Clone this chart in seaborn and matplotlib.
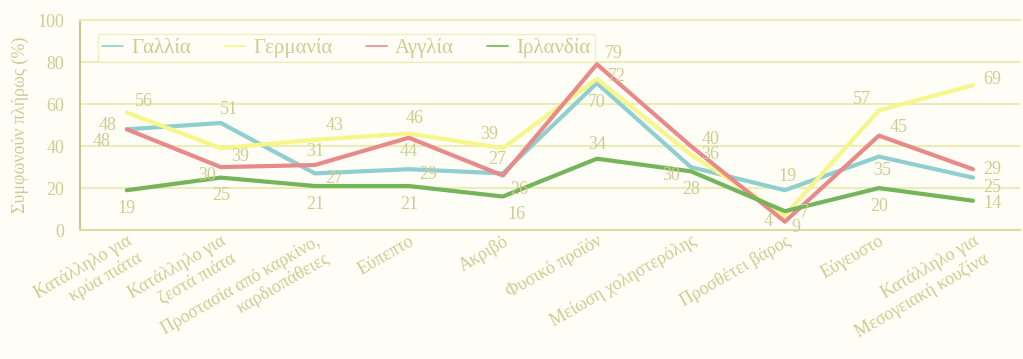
import matplotlib
matplotlib.use("Agg")
import matplotlib.pyplot as plt
import matplotlib.transforms as mtransforms
import seaborn as sns
import pandas as pd

# Survey attributes (x axis)
categories = [
    "Κατάλληλο για\nκρύα πιάτα",
    "Κατάλληλο για\nζεστά πιάτα",
    "Προστασία από καρκίνο,\nκαρδιοπάθειες",
    "Εύπεπτο",
    "Ακριβό",
    "Φυσικό προϊόν",
    "Μείωση χοληστερόλης",
    "Προσθέτει βάρος",
    "Εύγευστο",
    "Κατάλληλο για\nΜεσογειακή κουζίνα",
]

# Share of respondents per country (%)
gallia = [48, 51, 27, 29, 27, 70, 30, 19, 35, 25]
germania = [56, 39, 43, 46, 39, 72, 36, 7, 57, 69]
anglia = [48, 30, 31, 44, 26, 79, 40, 4, 45, 29]
irlandia = [19, 25, 21, 21, 16, 34, 28, 9, 20, 14]

countries = ["Γαλλία", "Γερμανία", "Αγγλία", "Ιρλανδία"]
series = [gallia, germania, anglia, irlandia]
yticks = [0, 20, 40, 60, 80, 100]

rows = []
for country, vals in zip(countries, series):
    for i, v in enumerate(vals):
        rows.append({"idx": i, "value": v, "country": country})
df = pd.DataFrame(rows)

sns.set_theme(style="white")
plt.rcParams["font.family"] = ["Liberation Serif", "DejaVu Serif"]

txt = "#cdcd92"
grid = "#ececb8"
palette = {
    "Γαλλία": "#8fcfcf",
    "Γερμανία": "#f6f68a",
    "Αγγλία": "#e98a8a",
    "Ιρλανδία": "#74b45a",
}

fig = plt.figure(figsize=(10.23, 3.59), dpi=100)
fig.patch.set_facecolor("#fefef6")
ax = fig.add_axes([0.078, 0.359, 0.919, 0.585])
ax.set_facecolor("#fefef6")

sns.lineplot(data=df, x="idx", y="value", hue="country", hue_order=countries,
             palette=palette, linewidth=3, ax=ax, legend=True)

# label offsets (points) for each value label
offsets = {
    "Γαλλία": [(-18, -9), (6, 10), (14, -4), (14, -4), (-4, 10),
               (0, -14), (-14, -6), (2, 10), (2, -10), (14, -7)],
    "Γερμανία": [(12, 8), (14, -6), (14, 10), (4, 11), (-10, 10),
                 (14, 2), (14, 0), (14, 2), (-12, 8), (14, 4)],
    "Αγγλία": [(-14, 3), (-10, -6), (0, 10), (0, -10), (12, -10),
               (12, 8), (14, 5), (-12, 0), (14, 6), (14, 0)],
    "Ιρλανδία": [(0, -13), (0, -13), (0, -13), (0, -13), (10, -13),
                 (0, 10), (0, -13), (8, -12), (0, -13), (14, -2)],
}
for country, vals in zip(countries, series):
    for i, v in enumerate(vals):
        dx, dy = offsets[country][i]
        ax.annotate(str(v), (i, v), xytext=(dx, dy), textcoords="offset points",
                    ha="center", va="center", fontsize=13, color=txt)

ax.set_xlim(-0.5, len(categories) - 0.5)
ax.set_ylim(0, 100)
ax.set_yticks(yticks)
ax.set_yticklabels([str(t) for t in yticks], fontsize=13, color=txt)
ax.set_xticks(range(len(categories)))
ax.set_xticklabels(categories, rotation=30, ha="right", rotation_mode="anchor",
                   multialignment="right", fontsize=13, color=txt)
# nudge the slanted category labels a little to the right of their ticks
shift = mtransforms.ScaledTranslation(8 / 72, 0, fig.dpi_scale_trans)
for lab in ax.get_xticklabels():
    lab.set_transform(lab.get_transform() + shift)
ax.tick_params(axis="y", length=4, color="#9a9a70", pad=7)
ax.tick_params(axis="x", length=0, pad=2)
ax.set_xlabel("")
ax.set_ylabel("Συμφωνούν πλήρως (%)", fontsize=13, color=txt, labelpad=6)

ax.yaxis.grid(True, color=grid, linewidth=1.5)
ax.set_axisbelow(True)
ax.spines["right"].set_visible(False)
ax.spines["top"].set_color(grid)
ax.spines["left"].set_color("#c8c890")
ax.spines["bottom"].set_color("#dcdca8")
for s in ["top", "left", "bottom"]:
    ax.spines[s].set_linewidth(1.5)

leg = ax.legend(ncol=4, loc="upper left", bbox_to_anchor=(0.008, 0.985),
                frameon=True, fontsize=15, handlelength=1.0, handletextpad=0.4,
                columnspacing=1.6, borderpad=0.2, edgecolor=grid, fancybox=False)
leg.get_frame().set_facecolor("#fefef6")
for t in leg.get_texts():
    t.set_color(txt)
for line in leg.get_lines():
    line.set_linewidth(1.2)

fig.savefig("out.png", dpi=100, facecolor=fig.get_facecolor())
